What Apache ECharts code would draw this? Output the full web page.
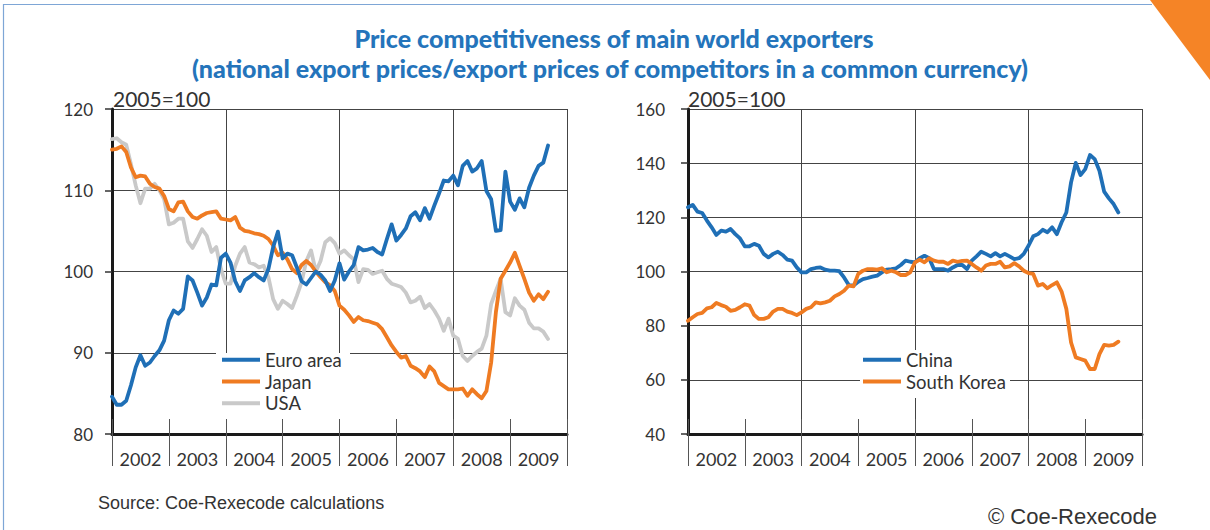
<!DOCTYPE html>
<html>
<head>
<meta charset="utf-8">
<script src="https://cdn.jsdelivr.net/npm/echarts@6.0.0/dist/echarts.min.js"></script>
<style>
html,body{margin:0;padding:0;background:#fff;}
#chart{width:1210px;height:530px;}
</style>
</head>
<body>
<div id="chart"></div>
<script>
// ---- Data (monthly, index 0 = Jan 2002) ----
const years = ['2002','2003','2004','2005','2006','2007','2008','2009'];
const leftTicks = [80, 120, 10];   // min, max, interval
const rightTicks = [40, 160, 20];

const euroArea = [
  84.6,83.6,83.6,84.1,86.0,88.2,89.7,88.4,88.8,89.6,90.3,91.5,
  94.0,95.2,94.8,95.4,99.4,98.9,97.4,95.8,96.8,98.4,98.3,101.7,
  102.2,101.1,98.8,97.6,98.9,99.3,99.8,99.3,98.9,100.3,103.0,104.9,
  101.6,102.2,102.0,100.5,98.8,98.4,99.2,100.0,99.6,98.9,97.6,98.9,
  101.0,99.0,100.0,100.8,103.0,102.6,102.7,102.9,102.4,102.1,104.0,105.8,
  103.8,104.5,105.3,106.8,107.3,106.3,107.8,106.5,108.1,109.6,111.2,111.1,
  111.8,110.6,113.0,113.6,112.3,112.7,113.6,109.9,108.9,105.0,105.1,112.3,
  108.6,107.6,109.0,107.9,110.3,111.8,113.0,113.4,115.5
];
const japan = [
  115.0,115.1,115.4,114.7,112.8,111.6,111.8,111.7,110.8,110.4,110.2,109.3,
  107.7,107.4,108.5,108.6,107.4,106.7,106.5,106.9,107.2,107.3,107.4,106.5,
  106.4,106.3,106.7,105.4,105.0,104.9,104.7,104.6,104.4,104.0,103.2,102.0,
  102.3,101.5,100.3,99.8,100.8,101.3,100.8,100.0,99.3,98.7,98.3,97.6,
  95.8,95.3,94.6,93.8,94.4,94.0,93.9,93.7,93.5,92.9,91.9,90.9,
  90.1,89.4,89.6,88.4,88.1,87.7,87.0,88.3,87.7,86.3,85.9,85.5,
  85.5,85.5,85.6,84.7,85.5,84.9,84.4,85.3,88.8,95.0,99.1,100.1,
  101.1,102.3,100.7,99.1,97.4,96.4,97.2,96.6,97.5
];
const usa = [
  116.3,116.4,115.9,115.6,113.2,110.6,108.4,110.2,110.2,110.8,110.0,108.9,
  105.8,106.0,106.5,106.5,103.7,102.9,104.0,105.2,104.4,102.4,103.0,100.3,
  98.5,98.5,100.7,102.2,103.0,101.1,100.9,100.5,100.7,99.3,96.6,95.4,
  96.4,96.0,95.5,97.0,98.7,101.3,102.6,100.0,101.3,103.6,104.1,103.5,
  102.2,102.6,102.0,101.5,98.7,100.3,100.2,99.7,99.9,100.1,99.1,98.5,
  98.3,98.1,97.4,96.2,96.4,96.9,95.5,96.0,95.2,94.2,92.7,94.2,
  92.1,91.7,89.6,89.0,89.6,90.1,90.5,92.1,96.0,97.6,99.1,95.0,
  94.6,96.7,95.8,95.3,93.7,93.0,93.0,92.6,91.7
];
const china = [
  123.7,124.6,122.1,121.6,118.8,116.3,113.5,115.1,114.7,115.7,113.8,112.2,
  109.3,109.3,110.2,109.5,106.5,105.2,106.5,107.3,106.1,104.4,104.0,101.5,
  99.7,99.7,100.9,101.3,101.5,100.7,100.3,100.3,100.1,97.8,95.0,94.8,
  96.2,97.2,97.6,98.1,98.5,99.7,100.7,100.9,101.2,102.4,104.0,103.6,
  103.4,104.9,105.8,104.9,100.9,100.9,100.9,100.3,101.5,102.4,102.4,100.9,
  104.0,105.6,107.3,106.5,105.6,106.8,105.6,106.5,105.6,104.6,104.9,106.5,
  109.5,113.0,113.8,115.4,114.5,116.3,113.8,118.2,121.8,132.9,140.1,135.6,
  137.8,143.0,141.5,137.2,129.5,127.0,124.9,121.8
];
const southKorea = [
  81.8,83.1,84.3,84.7,86.4,86.8,88.4,87.6,87.0,85.5,85.8,86.8,
  87.9,87.4,83.9,82.5,82.5,83.1,85.2,86.2,86.2,85.2,84.7,83.9,
  84.9,86.2,86.8,88.6,88.2,88.6,89.2,90.8,91.7,92.9,94.8,94.5,
  99.1,100.3,100.9,100.9,100.7,101.2,99.7,100.3,99.7,98.7,98.7,99.7,
  103.4,104.4,103.4,104.9,104.0,103.6,103.6,102.8,104.0,103.6,103.9,104.0,
  102.8,101.5,100.3,102.2,102.8,102.8,103.6,101.5,101.9,103.1,101.9,100.3,
  99.4,99.1,94.8,95.4,93.8,95.0,96.0,92.6,86.2,73.8,68.3,67.7,
  67.1,64.0,64.0,69.5,72.9,72.6,72.9,74.1
];

const BLUE = '#1f6fb6', ORANGE = '#ef7b22', GRAY = '#c9c9c9';
const FONT = 'Lato';
const toPairs = arr => arr.map((v, i) => [i, v]);

function bottomCat(g) {
  return {
    gridIndex: g, type: 'category', data: years, position: 'bottom', boundaryGap: true,
    axisLine: {show: true, onZero: false, lineStyle: {color: '#1a1a1a', width: 3}},
    axisTick: {show: true, interval: 0, length: 32, lineStyle: {color: '#555', width: 1}},
    axisLabel: {interval: 0, margin: 16, fontSize: 18, color: '#333', fontFamily: FONT},
    splitLine: {show: false}
  };
}
function topVal(g) {
  return {
    gridIndex: g, type: 'value', position: 'top', offset: -325, min: 0, max: 96, interval: 24,
    axisLine: {show: false, onZero: false},
    axisTick: {show: true, inside: false, length: 15, lineStyle: {color: '#555', width: 1}},
    minorTick: {show: true, splitNumber: 2, length: 15, lineStyle: {color: '#555', width: 1}},
    axisLabel: {show: false},
    splitLine: {show: true, lineStyle: {color: '#444', width: 1}},
    minorSplitLine: {show: false}
  };
}
function yAx(g, t, margin) {
  return {
    gridIndex: g, type: 'value', min: t[0], max: t[1], interval: t[2],
    axisLine: {show: true, onZero: false, lineStyle: {color: '#1a1a1a', width: 3}},
    axisTick: {show: true, length: 7, lineStyle: {color: '#333', width: 1.5}},
    axisLabel: {margin: margin, fontSize: 17, color: '#333', fontFamily: FONT},
    splitLine: {show: true, lineStyle: {color: '#444', width: 1}}
  };
}
function line(name, data, xi, yi, color) {
  return {
    type: 'line', name: name, xAxisIndex: xi, yAxisIndex: yi, data: toPairs(data),
    showSymbol: false, symbol: 'none', smooth: false,
    lineStyle: {width: 3.8, color: color, cap: 'round', join: 'round'},
    itemStyle: {color: color}, emphasis: {disabled: true}
  };
}
function txt(text, x, y, font, fill, align) {
  return {
    type: 'text', x: x, y: y, z: 10, silent: true,
    style: {text: text, font: font, fill: fill, textAlign: align || 'left', textVerticalAlign: 'middle',
            align: align || 'left', verticalAlign: 'middle'}
  };
}
const legendCommon = {
  orient: 'vertical', itemWidth: 38, itemHeight: 4, itemGap: 0, icon: 'rect', padding: 0, z: 10,
  selectedMode: false,
  textStyle: {fontSize: 18.5, color: '#333', fontFamily: FONT, lineHeight: 21.7}
};

const option = {
  animation: false,
  backgroundColor: '#fff',
  grid: [
    {left: 112, top: 109, width: 455, height: 325, outerBoundsMode: 'none', containLabel: false},
    {left: 688, top: 109, width: 454, height: 325, outerBoundsMode: 'none', containLabel: false}
  ],
  xAxis: [bottomCat(0), topVal(0), bottomCat(1), topVal(1)],
  yAxis: [yAx(0, leftTicks, 19), yAx(1, rightTicks, 23)],
  legend: [
    Object.assign({}, legendCommon, {left: 222, top: 349, data: ['Euro area', 'Japan', 'USA']}),
    Object.assign({}, legendCommon, {left: 863, top: 349, data: ['China', 'South Korea']})
  ],
  series: [
    line('USA', usa, 1, 0, GRAY),
    line('Japan', japan, 1, 0, ORANGE),
    line('Euro area', euroArea, 1, 0, BLUE),
    line('China', china, 3, 1, BLUE),
    line('South Korea', southKorea, 3, 1, ORANGE)
  ],
  graphic: {elements: [
    {type: 'rect', silent: true, z: 3, shape: {x: 216, y: 353, width: 134, height: 66}, style: {fill: '#fff'}},
    {type: 'rect', silent: true, z: 3, shape: {x: 860, y: 350, width: 150, height: 48}, style: {fill: '#fff'}},
    {type: 'line', silent: true, z: 1, shape: {x1: 3.5, y1: 4, x2: 3.5, y2: 530}, style: {stroke: '#7ea6d6', lineWidth: 1.2}},
    {type: 'line', silent: true, z: 1, shape: {x1: 3, y1: 4.5, x2: 1152, y2: 4.5}, style: {stroke: '#7ea6d6', lineWidth: 1.2}},
    {type: 'polygon', silent: true, z: 2, shape: {points: [[1150, 0], [1210, 0], [1210, 80]]}, style: {fill: '#f58426'}},
    txt('Price competitiveness of main world exporters', 614, 38, '900 25px Lato', '#2474bb', 'center'),
    txt('(national export prices/export prices of competitors in a common currency)', 610, 68, '900 25px Lato', '#2474bb', 'center'),
    txt('2005=100', 113, 98, '21px Lato', '#333'),
    txt('2005=100', 688, 98, '21px Lato', '#333'),
    txt('Source: Coe-Rexecode calculations', 98, 503, '18px "Liberation Sans", sans-serif', '#333'),
    txt('\u00A9 Coe-Rexecode', 988, 516, '22px "Liberation Sans", sans-serif', '#333')
  ]}
};

const chart = echarts.init(document.getElementById('chart'), null, {renderer: 'svg'});
chart.setOption(option);
</script>
</body>
</html>
